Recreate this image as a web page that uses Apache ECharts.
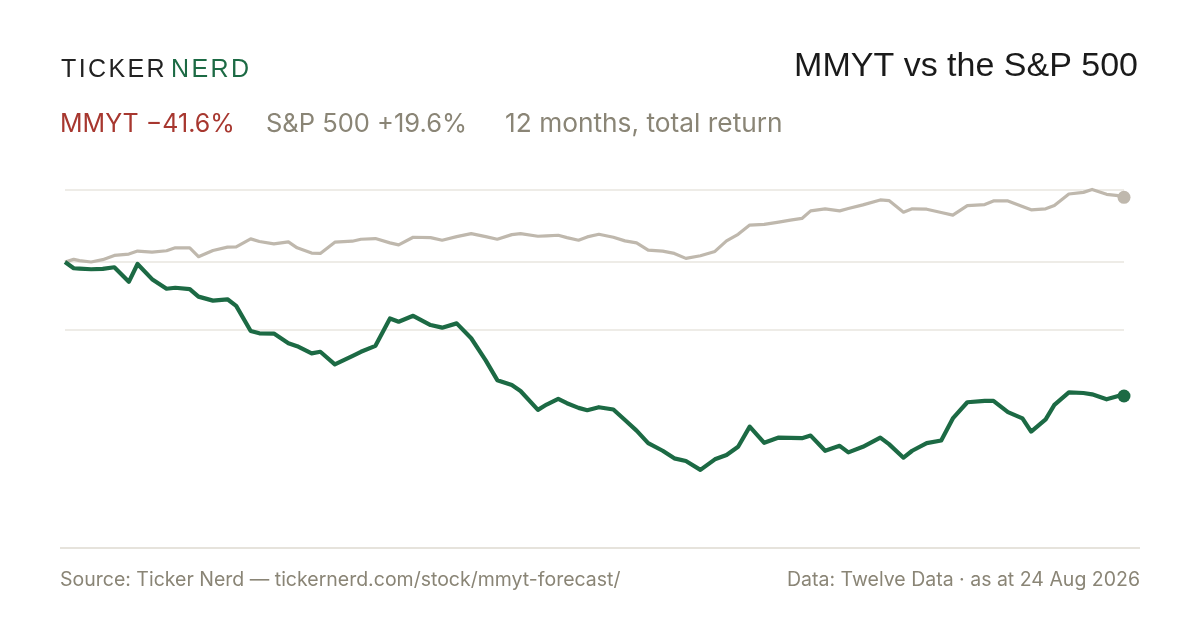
<!DOCTYPE html>
<html>
<head>
<meta charset="utf-8">
<title>MMYT vs the S&amp;P 500</title>
<script src="https://cdn.jsdelivr.net/npm/echarts@6/dist/echarts.min.js"></script>
<style>
  html, body { margin: 0; padding: 0; background: #ffffff; }
  #chart { width: 1200px; height: 630px; }
</style>
</head>
<body>
<div id="chart"></div>
<script>
// days since start of the 12 month window
var days = [0,3,5,9,13,17,22,25,30,35,38,43,46,51,56,59,64,67,72,77,
    80,85,88,93,99,102,107,112,115,120,126,130,135,140,145,149,154,157,163,166,
    170,173,177,180,184,189,193,197,201,206,210,214,219,224,228,232,236,241,246,250,
    254,257,262,267,270,275,281,284,289,292,297,302,306,311,317,320,325,330,333,338,
    341,346,351,354,359,363,365];

// total return, %
var spx = [0,0.8,0.4,0.0,0.7,2.0,2.4,3.3,3.0,3.4,
    4.3,4.3,1.6,3.5,4.5,4.6,7.0,6.2,5.5,6.1,
    4.3,2.7,2.6,6.0,6.3,6.9,7.1,5.8,5.2,7.5,
    7.4,6.6,7.7,8.6,7.7,6.9,8.3,8.6,7.8,7.9,
    8.1,7.4,6.6,7.6,8.4,7.5,6.4,5.8,3.6,3.3,
    2.6,1.1,1.9,3.2,6.4,8.4,11.2,11.4,12.1,12.7,
    13.2,15.5,16.1,15.5,16.2,17.3,18.8,18.6,15.1,16.1,
    16.0,15.0,14.2,17.1,17.4,18.5,18.5,16.8,15.8,16.1,
    17.1,20.6,21.1,22.0,20.5,20.1,19.6];

var mmyt = [0,-1.9,-2.0,-2.2,-2.1,-1.6,-6.0,-0.6,-5.2,-8.1,
    -7.8,-8.2,-10.5,-11.7,-11.3,-13.3,-20.9,-21.6,-21.7,-24.6,
    -25.5,-27.7,-27.2,-31.0,-28.5,-27.2,-25.4,-17.1,-18.1,-16.3,
    -19.1,-19.9,-18.6,-23.1,-29.8,-35.8,-37.3,-39.1,-44.8,-43.2,
    -41.5,-42.8,-44.2,-44.9,-44.0,-44.7,-47.9,-51.1,-54.9,-57.2,
    -59.5,-60.3,-63.0,-59.8,-58.5,-56.0,-49.9,-54.8,-53.2,-53.3,
    -53.4,-52.6,-57.2,-55.7,-57.7,-56.0,-53.2,-55.2,-59.3,-57.2,
    -54.9,-54.1,-47.4,-42.5,-42.1,-42.1,-45.5,-47.4,-51.4,-47.7,
    -43.3,-39.5,-39.7,-40.1,-41.6,-40.6,-40.6];

var gridValues = [22, 0, -20.4];

var GREEN = '#1c6a44';
var SAND = '#bfb8ad';
var GREY_TEXT = '#8a8576';
var RED = '#a7372f';
var FONT = '"Liberation Sans", Arial, Helvetica, sans-serif';
var BODY = 'Inter, "Liberation Sans", Arial, sans-serif';

var chart = echarts.init(document.getElementById('chart'), null, {renderer: 'canvas'});

function pairs(vals) {
    return days.map(function(d, i) { return [d, vals[i]]; });
}
function last(vals) {
    return [[days[days.length - 1], vals[vals.length - 1]]];
}

// letter spaced wordmark, echarts text has no letterSpacing
var measure = document.createElement('canvas').getContext('2d');
function spaced(str, x, y, size, gap, color) {
    var font = size + 'px ' + FONT;
    measure.font = font;
    var out = [];
    for (var i = 0; i < str.length; i++) {
        out.push({
            type: 'text', x: x, y: y,
            style: {text: str[i], font: font, fill: color, verticalAlign: 'middle'}
        });
        x += measure.measureText(str[i]).width + gap;
    }
    return out;
}

function label(text, x, y, size, color, align, family) {
    return {
        type: 'text', x: x, y: y,
        style: {
            text: text, font: size + 'px ' + (family || BODY), fill: color,
            align: align || 'left', verticalAlign: 'middle'
        }
    };
}

var graphics = []
    .concat(spaced('TICKER', 61, 70, 25, 2.4, '#222222'))
    .concat(spaced('NERD', 171, 70, 25, 2.4, GREEN))
    .concat([
        label('MMYT vs the S&P 500', 1138, 67, 34, '#1a1a1a', 'right', FONT),
        label('MMYT \u221241.6%', 60, 124, 25, RED),
        label('S&P 500 +19.6%', 266, 124, 25.5, GREY_TEXT),
        label('12 months, total return', 505, 124, 26.3, GREY_TEXT),
        {
            type: 'line',
            shape: {x1: 60, y1: 548, x2: 1140, y2: 548},
            style: {stroke: '#dedad0', lineWidth: 1.5}
        },
        label('Source: Ticker Nerd \u2014 tickernerd.com/stock/mmyt-forecast/', 60, 580.5, 19.5, GREY_TEXT),
        label('Data: Twelve Data \u00b7 as at 24 Aug 2026', 1140, 580.5, 19.5, GREY_TEXT, 'right')
    ]);

var option = {
    backgroundColor: '#ffffff',
    animation: false,
    grid: {left: 65, right: 76, top: 149.8, height: 396},
    xAxis: {
        type: 'value', min: 0, max: 365,
        show: false
    },
    yAxis: {
        type: 'value', min: -86, max: 34,
        show: false,
        splitLine: {show: false}
    },
    graphic: graphics,
    series: [
        {
            name: 'S&P 500',
            type: 'line',
            data: pairs(spx),
            showSymbol: false,
            lineStyle: {color: SAND, width: 3.2, join: 'round'},
            z: 2,
            markLine: {
                silent: true,
                symbol: ['none', 'none'],
                label: {show: false},
                lineStyle: {color: '#e9e6df', width: 1.5, type: 'solid'},
                data: gridValues.map(function(v) { return {yAxis: v}; }),
                z: 1
            }
        },
        {
            name: 'MMYT',
            type: 'line',
            data: pairs(mmyt),
            showSymbol: false,
            lineStyle: {color: GREEN, width: 4.2, join: 'round'},
            z: 3
        },
        {
            type: 'scatter',
            data: last(spx),
            symbolSize: 13,
            itemStyle: {color: SAND, opacity: 1},
            z: 4
        },
        {
            type: 'scatter',
            data: last(mmyt),
            symbolSize: 13,
            itemStyle: {color: GREEN, opacity: 1},
            z: 4
        }
    ]
};

chart.setOption(option);
</script>
</body>
</html>
